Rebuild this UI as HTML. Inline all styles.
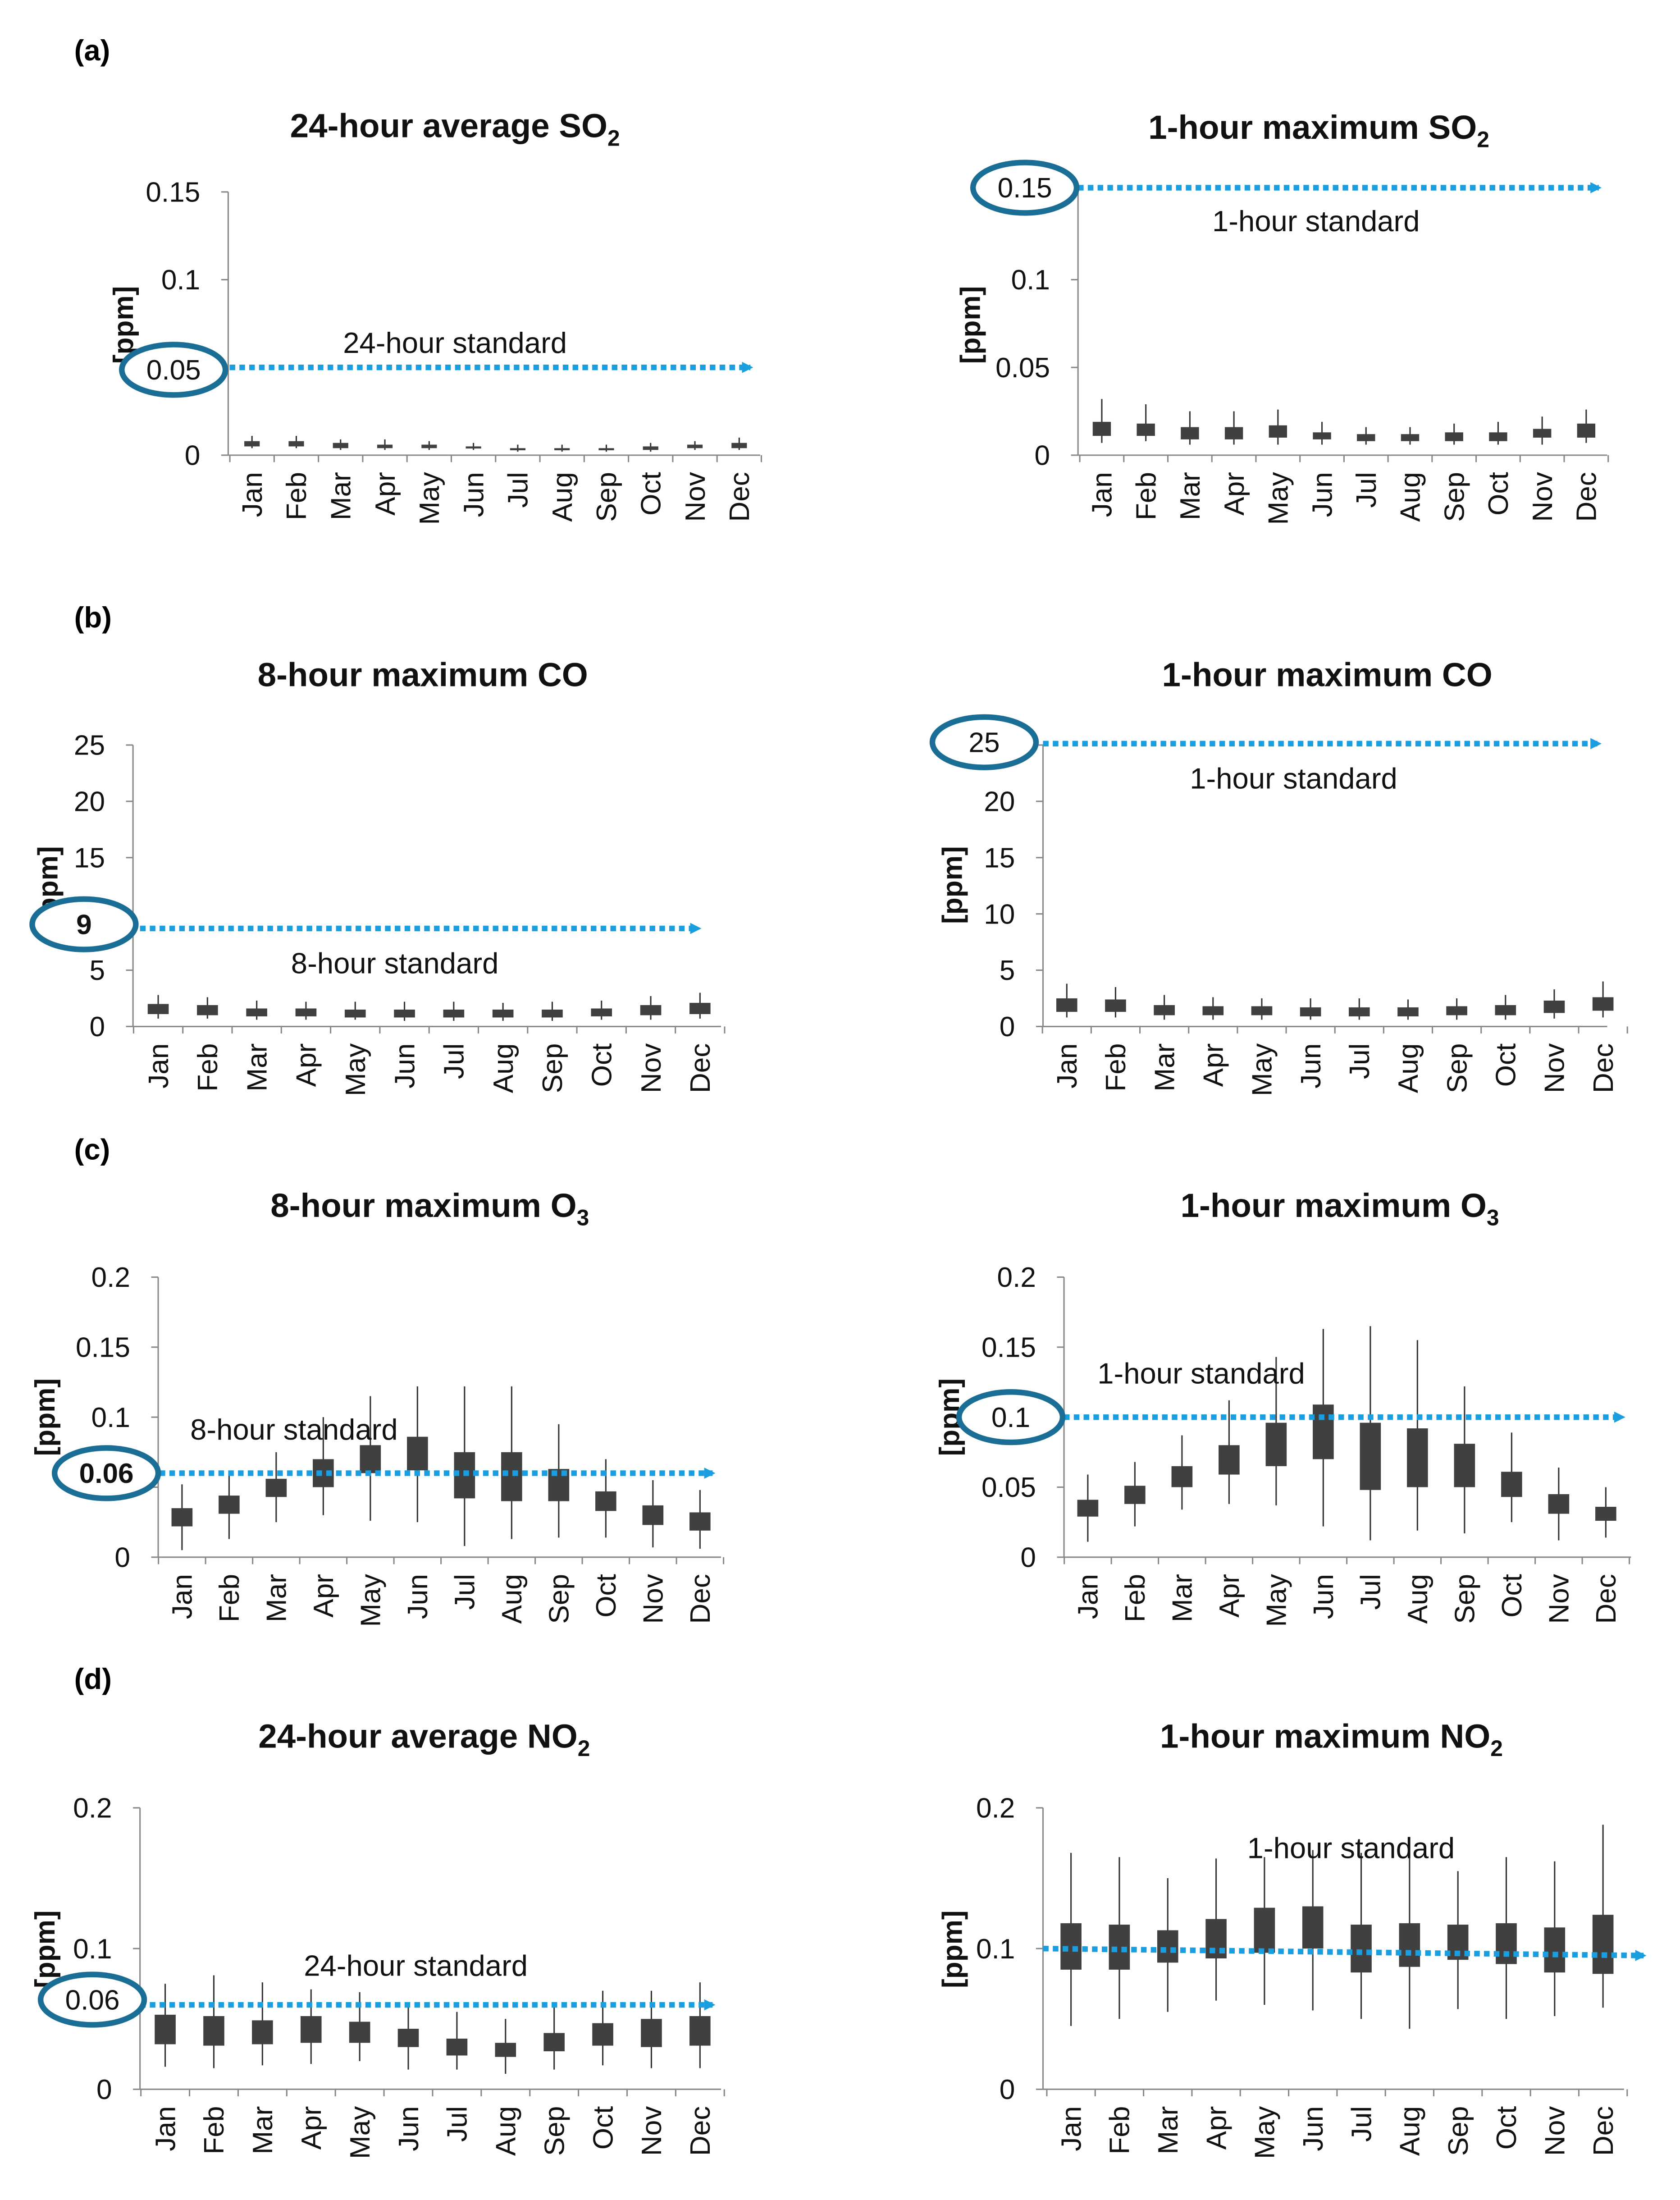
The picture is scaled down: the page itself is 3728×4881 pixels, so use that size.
<!DOCTYPE html>
<html><head><meta charset="utf-8"><style>
html,body{margin:0;padding:0;background:#fff}
svg{display:block}
text{font-family:"Liberation Sans",sans-serif}
</style></head><body>
<svg id="fig" xmlns="http://www.w3.org/2000/svg" width="3728" height="4881" viewBox="0 0 1200 1571">
<defs><marker id="arr" markerWidth="8" markerHeight="8" refX="6" refY="4" orient="auto" markerUnits="userSpaceOnUse"><path d="M0,0 L8,4 L0,8 z" fill="#1b9ee0"/></marker></defs>
</svg>
<script>
const months=["Jan","Feb","Mar","Apr","May","Jun","Jul","Aug","Sep","Oct","Nov","Dec"];
// per-chart data arrays: [q1], [q3], [min], [max]
const so2dQ1=[0.005,0.005,0.004,0.004,0.004,0.004,0.003,0.003,0.003,0.003,0.004,0.004];
const so2dQ3=[0.008,0.008,0.007,0.006,0.006,0.005,0.004,0.004,0.004,0.005,0.006,0.007];
const so2dMin=[0.004,0.004,0.003,0.003,0.003,0.003,0.002,0.002,0.002,0.002,0.003,0.003];
const so2dMax=[0.011,0.011,0.009,0.009,0.008,0.007,0.006,0.006,0.006,0.007,0.008,0.010];
const so2hQ1=[0.011,0.011,0.009,0.009,0.010,0.009,0.008,0.008,0.008,0.008,0.010,0.010];
const so2hQ3=[0.019,0.018,0.016,0.016,0.017,0.013,0.012,0.012,0.013,0.013,0.015,0.018];
const so2hMin=[0.007,0.008,0.006,0.006,0.006,0.006,0.006,0.006,0.006,0.006,0.006,0.007];
const so2hMax=[0.032,0.029,0.025,0.025,0.026,0.019,0.016,0.016,0.018,0.019,0.022,0.026];
const co8Q1=[1.1,1.0,0.9,0.9,0.8,0.8,0.8,0.8,0.8,0.9,1.0,1.1];
const co8Q3=[2.0,1.9,1.6,1.6,1.5,1.5,1.5,1.5,1.5,1.6,1.9,2.1];
const co8Min=[0.7,0.7,0.6,0.6,0.6,0.5,0.5,0.5,0.5,0.6,0.6,0.7];
const co8Max=[2.8,2.6,2.3,2.2,2.2,2.2,2.2,2.1,2.2,2.3,2.7,3.0];
const co1Q1=[1.3,1.3,1.0,1.0,1.0,0.9,0.9,0.9,1.0,1.0,1.2,1.4];
const co1Q3=[2.5,2.4,1.9,1.8,1.8,1.7,1.7,1.7,1.8,1.9,2.3,2.6];
const co1Min=[0.8,0.8,0.6,0.6,0.6,0.6,0.6,0.6,0.6,0.6,0.7,0.8];
const co1Max=[3.8,3.5,2.8,2.6,2.5,2.5,2.5,2.4,2.5,2.8,3.3,4.0];
const o38Q1=[0.022,0.031,0.043,0.050,0.060,0.062,0.042,0.040,0.040,0.033,0.023,0.019];
const o38Q3=[0.035,0.044,0.056,0.070,0.080,0.086,0.075,0.075,0.063,0.047,0.037,0.032];
const o38Min=[0.005,0.013,0.025,0.030,0.026,0.025,0.008,0.013,0.014,0.014,0.007,0.006];
const o38Max=[0.052,0.060,0.075,0.100,0.115,0.122,0.122,0.122,0.095,0.070,0.055,0.048];
const o31Q1=[0.029,0.038,0.050,0.059,0.065,0.070,0.048,0.050,0.050,0.043,0.031,0.026];
const o31Q3=[0.041,0.051,0.065,0.080,0.096,0.109,0.096,0.092,0.081,0.061,0.045,0.036];
const o31Min=[0.011,0.022,0.034,0.038,0.037,0.022,0.012,0.019,0.017,0.025,0.012,0.014];
const o31Max=[0.059,0.068,0.087,0.112,0.143,0.163,0.165,0.155,0.122,0.089,0.064,0.050];
const no2dQ1=[0.032,0.031,0.032,0.033,0.033,0.030,0.024,0.023,0.027,0.031,0.030,0.031];
const no2dQ3=[0.053,0.052,0.049,0.052,0.048,0.043,0.036,0.033,0.040,0.047,0.050,0.052];
const no2dMin=[0.016,0.015,0.017,0.018,0.020,0.014,0.014,0.011,0.014,0.017,0.015,0.015];
const no2dMax=[0.075,0.081,0.076,0.071,0.069,0.060,0.055,0.050,0.060,0.070,0.070,0.076];
const no2hQ1=[0.085,0.085,0.090,0.093,0.097,0.100,0.083,0.087,0.092,0.089,0.083,0.082];
const no2hQ3=[0.118,0.117,0.113,0.121,0.129,0.130,0.117,0.118,0.117,0.118,0.115,0.124];
const no2hMin=[0.045,0.050,0.055,0.063,0.060,0.056,0.050,0.043,0.057,0.050,0.052,0.058];
const no2hMax=[0.168,0.165,0.150,0.164,0.165,0.170,0.168,0.168,0.155,0.165,0.162,0.188];
const so2Ticks=["0","0.05","0.1","0.15"], coTicks=["0","5","10","15","20","25"], o3Ticks=["0","0.05","0.1","0.15","0.2"], no2Ticks=["0","0.1","0.2"];

const svg=document.getElementById('fig');
const NS="http://www.w3.org/2000/svg";
function mk(tag,attrs,parent,text){const e=document.createElementNS(NS,tag);for(const k in attrs)e.setAttribute(k,attrs[k]);if(text!==undefined)e.textContent=text;(parent||svg).appendChild(e);return e;}

const panels=[
 {name:"so2-24h",title:"24-hour average  SO",sub:"2",tx:325,ty:90,ax:163,axEnd:543,yT:137,yB:325,ymax:0.15,ticks:so2Ticks,tickVals:[0,0.05,0.1,0.15],hideTick:[],m0:180,m11:528,q1:so2dQ1,q3:so2dQ3,mn:so2dMin,mx:so2dMax,std:0.05,stdX0:150,stdX1:542,ell:[124,264],ellTxt:"0.05",ellBold:false,stdTxt:"24-hour standard",stx:325,sty:252,ylx:88,yly:232,bw:11},
 {name:"so2-1h",title:"1-hour maximum SO",sub:"2",tx:942,ty:91,ax:770,axEnd:1148,yT:137,yB:325,ymax:0.15,ticks:so2Ticks,tickVals:[0,0.05,0.1,0.15],hideTick:[3],m0:787,m11:1133,q1:so2hQ1,q3:so2hQ3,mn:so2hMin,mx:so2hMax,std:0.15,stdY:134,stdX0:770,stdX1:1148,ell:[732,134],ellTxt:"0.15",ellBold:false,stdTxt:"1-hour standard",stx:940,sty:165,ylx:693,yly:232,bw:13},
 {name:"co-8h",title:"8-hour maximum CO",tx:302,ty:482,ax:95,axEnd:515,yT:532,yB:733,ymax:25,ticks:coTicks,tickVals:[0,5,10,15,20,25],hideTick:[2],m0:113,m11:500,q1:co8Q1,q3:co8Q3,mn:co8Min,mx:co8Max,std:9,stdY:663,stdX0:100,stdX1:505,ell:[60,660],ellTxt:"9",ellBold:true,stdTxt:"8-hour standard",stx:282,sty:695,ylx:34,yly:632,bw:15},
 {name:"co-1h",title:"1-hour maximum CO",tx:948,ty:482,ax:745,axEnd:1148,yT:532,yB:733,ymax:25,ticks:coTicks,tickVals:[0,5,10,15,20,25],hideTick:[5],m0:762,m11:1145,q1:co1Q1,q3:co1Q3,mn:co1Min,mx:co1Max,std:25,stdY:531,stdX0:745,stdX1:1148,ell:[703,530],ellTxt:"25",ellBold:false,stdTxt:"1-hour standard",stx:924,sty:563,ylx:680,yly:632,bw:15},
 {name:"o3-8h",title:"8-hour maximum O",sub:"3",tx:307,ty:861,ax:113,axEnd:515,yT:912,yB:1112,ymax:0.2,ticks:o3Ticks,tickVals:[0,0.05,0.1,0.15,0.2],hideTick:[],m0:130,m11:500,q1:o38Q1,q3:o38Q3,mn:o38Min,mx:o38Max,std:0.06,stdX0:100,stdX1:515,ell:[76,1052],ellTxt:"0.06",ellBold:true,stdTxt:"8-hour standard",stx:210,sty:1028,ylx:32,yly:1012,bw:15},
 {name:"o3-1h",title:"1-hour maximum O",sub:"3",tx:957,ty:861,ax:760,axEnd:1165,yT:912,yB:1112,ymax:0.2,ticks:o3Ticks,tickVals:[0,0.05,0.1,0.15,0.2],hideTick:[2],m0:777,m11:1147,q1:o31Q1,q3:o31Q3,mn:o31Min,mx:o31Max,std:0.1,stdX0:760,stdX1:1165,ell:[722,1012],ellTxt:"0.1",ellBold:false,stdTxt:"1-hour standard",stx:858,sty:988,ylx:678,yly:1012,bw:15},
 {name:"no2-24h",title:"24-hour average NO",sub:"2",tx:303,ty:1240,ax:100,axEnd:515,yT:1291,yB:1492,ymax:0.2,ticks:no2Ticks,tickVals:[0,0.1,0.2],hideTick:[],m0:118,m11:500,q1:no2dQ1,q3:no2dQ3,mn:no2dMin,mx:no2dMax,std:0.06,stdX0:100,stdX1:515,ell:[66,1428],ellTxt:"0.06",ellBold:false,stdTxt:"24-hour standard",stx:297,sty:1411,ylx:32,yly:1392,bw:15},
 {name:"no2-1h",title:"1-hour maximum NO",sub:"2",tx:951,ty:1240,ax:745,axEnd:1160,yT:1291,yB:1492,ymax:0.2,ticks:no2Ticks,tickVals:[0,0.1,0.2],hideTick:[],m0:765,m11:1145,q1:no2hQ1,q3:no2hQ3,mn:no2hMin,mx:no2hMax,std:0.1,stdSlope:true,stdX0:745,stdX1:1180,ell:null,stdTxt:"1-hour standard",stx:965,sty:1327,ylx:680,yly:1392,bw:15}
];

// section labels
[["(a)",36],["(b)",441],["(c)",821],["(d)",1199]].forEach(([t,y])=>{
 const e=mk('text',{x:53,y:y+7,'font-family':'Liberation Serif, serif','font-weight':'bold','font-size':21},svg,t);
 
 
});

panels.forEach(p=>{
 const g=mk('g',{});
 
 
 const yS=v=>p.yB-(v/p.ymax)*(p.yB-p.yT);
 const step=(p.m11-p.m0)/11;
 const xS=i=>p.m0+i*step;
 // title
 const t=mk('text',{x:p.tx,y:p.ty+8,'text-anchor':'middle','font-weight':'bold','font-size':24,fill:'#111'},g,p.title);
 if(p.sub){mk('tspan',{'font-size':16,dy:6},t,p.sub);}
 
 
 // y label
 const yl=mk('text',{x:0,y:0,transform:`translate(${p.ylx+7},${p.yly}) rotate(-90)`,'text-anchor':'middle','font-weight':'bold','font-size':20,fill:'#111'},g,'[ppm]');
 
 
 // axes
 const ya=mk('line',{x1:p.ax,y1:p.yT,x2:p.ax,y2:p.yB,stroke:'#888','stroke-width':1},g);
 
 
 const xa=mk('line',{x1:p.ax,y1:p.yB,x2:p.axEnd,y2:p.yB,stroke:'#888','stroke-width':1},g);
 
 
 p.tickVals.forEach((v,i)=>{
  const y=yS(v);
  mk('line',{x1:p.ax-5,y1:y,x2:p.ax,y2:y,stroke:'#888'},g);
  if(p.hideTick.includes(i))return;
  const tl=mk('text',{x:p.ax-20,y:y+7,'text-anchor':'end','font-size':20,fill:'#111'},g,p.ticks[i]);
  
  
 });
 for(let i=0;i<=12;i++){const x=p.m0-step/2+i*step;mk('line',{x1:x,y1:p.yB,x2:x,y2:p.yB+5,stroke:'#888'},g);}
 months.forEach((m,i)=>{
  const x=xS(i);
  const ml=mk('text',{x:0,y:0,transform:`translate(${x+7},${p.yB+12}) rotate(-90)`,'text-anchor':'end','font-size':20,fill:'#111'},g,m);
  
  
  const wl=mk('line',{x1:x,y1:yS(p.mn[i]),x2:x,y2:yS(p.mx[i]),stroke:'#333','stroke-width':1},g);
  
  
  const b=mk('rect',{x:x-p.bw/2,y:yS(p.q3[i]),width:p.bw,height:Math.max(1.5,yS(p.q1[i])-yS(p.q3[i])),fill:'#404040'},g);
  
  
 });
 // standard line
 const sy=p.stdY!==undefined?p.stdY:yS(p.std);
 const sy2=p.stdSlope?sy+5:sy;
 const sl=mk('line',{x1:p.stdX0,y1:sy,x2:p.stdX1-6,y2:sy2,stroke:'#1b9ee0','stroke-width':4,'stroke-dasharray':'4 3','marker-end':'url(#arr)'},g);
 
 
 const st=mk('text',{x:p.stx,y:p.sty,'text-anchor':'middle','font-size':21,fill:'#111'},g,p.stdTxt);
 
 
 if(p.ell){
  const bg=mk('ellipse',{cx:p.ell[0],cy:p.ell[1],rx:36,ry:18,fill:'#fff',stroke:'none'},g);
  const et=mk('text',{x:p.ell[0],y:p.ell[1]+7,'text-anchor':'middle','font-size':20,'font-weight':p.ellBold?'bold':'normal',fill:'#111'},g,p.ellTxt);
  
  
  const el=mk('ellipse',{cx:p.ell[0],cy:p.ell[1],rx:37,ry:18,fill:'none',stroke:'#1a6e96','stroke-width':4},g);
  
  
 }
});
</script>
</body></html>
